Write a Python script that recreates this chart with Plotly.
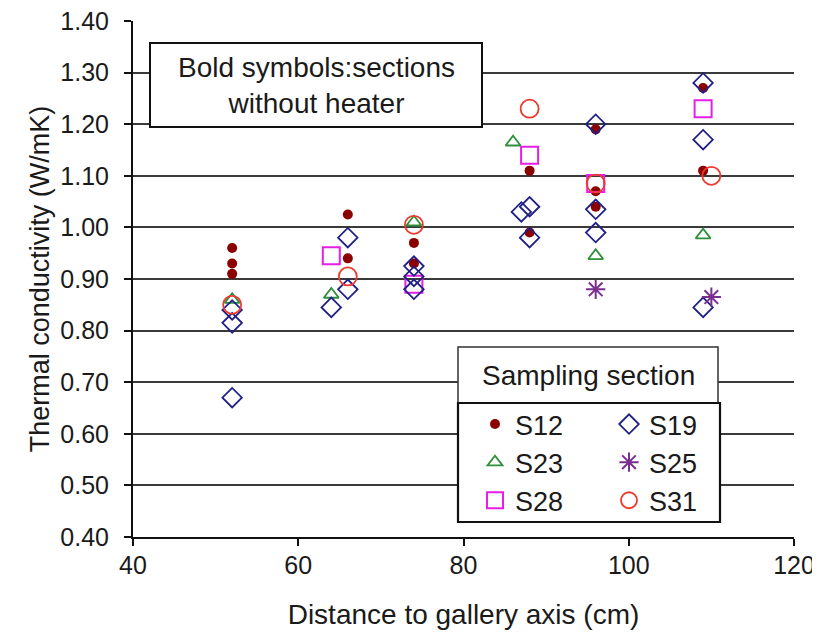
import plotly.graph_objects as go

# ---- data ----
s12_x = [52, 52, 52, 66, 66, 74, 74, 88, 88, 96, 96, 96, 109, 109]
s12_y = [0.96, 0.93, 0.91, 1.025, 0.94, 0.97, 0.93, 1.11, 0.99, 1.19, 1.07, 1.04, 1.27, 1.11]

s19_x = [52, 52, 52, 64, 66, 66, 74, 74, 74, 87, 88, 88, 96, 96, 96, 109, 109, 109]
s19_y = [0.84, 0.815, 0.67, 0.845, 0.98, 0.88, 0.925, 0.905, 0.88, 1.03, 1.04, 0.98, 1.20, 1.035, 0.99, 1.28, 1.17, 0.845]

s23_x = [52, 64, 74, 86, 96, 109]
s23_y = [0.86, 0.87, 1.01, 1.165, 0.945, 0.985]

s25_x = [96, 110]
s25_y = [0.88, 0.865]

s28_x = [64, 74, 88, 96, 109]
s28_y = [0.945, 0.89, 1.14, 1.085, 1.23]

s31_x = [52, 66, 74, 88, 96, 110]
s31_y = [0.85, 0.905, 1.005, 1.23, 1.085, 1.10]

y_ticks = [0.40, 0.50, 0.60, 0.70, 0.80, 0.90, 1.00, 1.10, 1.20, 1.30, 1.40]
x_ticks = [40, 60, 80, 100, 120]

FONT = "Liberation Sans, Arial, sans-serif"
TXT = "#1a1a1a"

fig = go.Figure()

series = [
    ("S12", s12_x, s12_y, "circle", 10, "#8b0000", 0, "legend"),
    ("S23", s23_x, s23_y, "triangle-up-open", 13, "#2f8f3a", 1.8, "legend"),
    ("S28", s28_x, s28_y, "square-open", 17, "#e61ee6", 2, "legend"),
    ("S19", s19_x, s19_y, "diamond-open", 15, "#1f1f86", 1.8, "legend2"),
    ("S25", s25_x, s25_y, "asterisk-open", 16, "#7a2f8f", 2, "legend2"),
    ("S31", s31_x, s31_y, "circle-open", 18, "#ee3a2e", 1.8, "legend2"),
]
for name, xs, ys, sym, size, col, lw, leg in series:
    fig.add_trace(go.Scatter(
        x=xs, y=ys, mode="markers", name=name, legend=leg,
        marker=dict(symbol=sym, size=size, color=col,
                    line=dict(color=col, width=lw)),
    ))

def px_x(p):
    return (p - 133) / 661.0

def px_y(p):
    return (537 - p) / 516.0

shapes = [
    # annotation box
    dict(type="rect", xref="paper", yref="paper",
         x0=px_x(150), x1=px_x(482), y0=px_y(127), y1=px_y(43),
         fillcolor="white", line=dict(color="#111", width=2), layer="above"),
    # legend title box
    dict(type="rect", xref="paper", yref="paper",
         x0=px_x(458), x1=px_x(718), y0=px_y(403), y1=px_y(347),
         fillcolor="white", line=dict(color="#333", width=1.5), layer="above"),
    # legend items box
    dict(type="rect", xref="paper", yref="paper",
         x0=px_x(458), x1=px_x(720), y0=px_y(522), y1=px_y(403),
         fillcolor="white", line=dict(color="#111", width=2.2), layer="above"),
]

annotations = [
    dict(xref="paper", yref="paper", x=(px_x(150) + px_x(482)) / 2,
         y=(px_y(127) + px_y(43)) / 2, xanchor="center", yanchor="middle",
         text="Bold symbols:sections<br>without heater", showarrow=False,
         align="center", font=dict(family=FONT, size=28, color=TXT)),
    dict(xref="paper", yref="paper", x=(px_x(458) + px_x(718)) / 2,
         y=(px_y(403) + px_y(347)) / 2, xanchor="center", yanchor="middle",
         text="Sampling section", showarrow=False,
         font=dict(family=FONT, size=28, color=TXT)),
]

leg_common = dict(xanchor="left", yanchor="top", bgcolor="rgba(0,0,0,0)",
                  borderwidth=0, font=dict(family=FONT, size=27, color=TXT),
                  itemwidth=30, tracegroupgap=0, traceorder="normal")

fig.update_layout(
    width=812, height=625,
    margin=dict(l=125, r=26, t=13, b=96, autoexpand=False),
    paper_bgcolor="white", plot_bgcolor="white",
    font=dict(family=FONT, color=TXT),
    showlegend=True,
    legend=dict(x=px_x(475), y=px_y(400), **leg_common),
    legend2=dict(x=px_x(609), y=px_y(400), **leg_common),
    shapes=shapes,
    annotations=annotations,
    xaxis=dict(range=[40, 120], tickvals=x_ticks, ticktext=[str(v) for v in x_ticks],
               showgrid=False, zeroline=False, showline=True, automargin=False,
               linecolor="#111", linewidth=2, ticks="outside", ticklen=7,
               tickcolor="#111", tickwidth=1.5, ticklabelstandoff=-2,
               ticklabeloverflow="allow",
               tickfont=dict(family=FONT, size=25, color=TXT),
               title=dict(text="Distance to gallery axis (cm)",
                          font=dict(family=FONT, size=28, color=TXT), standoff=26)),
    yaxis=dict(range=[0.40, 1.40], tickvals=y_ticks,
               ticktext=["%.2f" % v for v in y_ticks],
               showgrid=True, gridcolor="#3a3a3a", gridwidth=1.5,
               zeroline=False, showline=True, automargin=False,
               linecolor="#111", linewidth=2, ticks="outside", ticklen=7,
               tickcolor="#111", tickwidth=1.5, ticklabelstandoff=10,
               ticklabeloverflow="allow",
               tickfont=dict(family=FONT, size=25, color=TXT),
               title=dict(text="Thermal conductivity (W/mK)",
                          font=dict(family=FONT, size=27, color=TXT), standoff=3)),
)

fig.write_html("out.html")
